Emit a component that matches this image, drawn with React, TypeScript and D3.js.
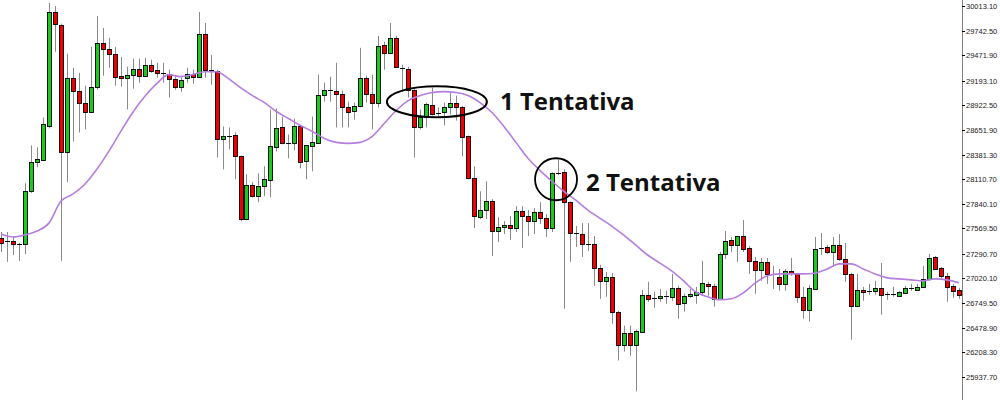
import React from 'react';
import * as d3 from 'd3';

// [open, high, low, close] per bar
const ohlc: number[][] = [
  [27464, 27530, 27311, 27410], [27415, 27530, 27202, 27431], [27431, 27486, 27278, 27399], [27399, 27410, 27213, 27399],
  [27399, 28066, 27289, 27978], [27978, 28482, 27960, 28296], [28296, 28460, 28241, 28329], [28329, 28788, 28310, 28722],
  [28701, 30046, 28668, 29948], [29948, 30013, 29510, 29816], [29806, 29820, 27213, 28416], [28416, 29488, 28077, 29226],
  [29226, 29335, 28525, 29083], [29083, 29280, 28624, 28952], [28952, 29138, 28657, 28854], [28854, 29565, 28840, 29127],
  [29127, 29904, 29094, 29609], [29609, 29773, 29248, 29543], [29543, 29663, 29335, 29488], [29488, 29565, 29138, 29237],
  [29248, 29455, 29127, 29226], [29226, 29346, 28876, 29259], [29259, 29434, 29105, 29324], [29324, 29434, 29171, 29248],
  [29248, 29444, 29237, 29368], [29368, 29423, 29280, 29302], [29313, 29390, 29226, 29280], [29280, 29390, 29171, 29269],
  [29269, 29313, 29007, 29215], [29215, 29237, 29094, 29127], [29127, 29226, 29072, 29204], [29226, 29335, 29171, 29269],
  [29269, 29313, 29160, 29237], [29237, 29948, 29230, 29707], [29707, 29827, 29226, 29313], [29313, 29477, 29149, 29302],
  [29302, 29313, 28350, 28558], [28547, 28690, 28219, 28580], [28580, 28679, 28438, 28575], [28591, 28624, 28110, 28361],
  [28361, 28370, 27650, 27672], [27672, 28165, 27660, 28044], [28044, 28077, 27910, 27924], [27924, 28175, 27858, 28033],
  [28033, 28252, 27924, 28110], [28099, 28876, 27913, 28471], [28460, 28887, 28416, 28668], [28679, 28799, 28493, 28504],
  [28504, 28602, 28340, 28500], [28500, 28777, 28427, 28690], [28690, 28701, 28230, 28296], [28307, 28482, 28110, 28482],
  [28471, 28799, 28197, 28515], [28515, 29259, 28500, 29040], [29040, 29171, 28963, 29094], [29094, 29237, 28963, 29083],
  [29083, 29390, 28679, 29051], [29051, 29083, 28679, 28908], [28908, 28963, 28679, 28854], [28865, 28952, 28766, 28919],
  [28919, 29554, 28900, 29226], [29226, 29248, 28952, 29051], [29051, 29259, 28657, 28952], [28952, 29685, 28898, 29576],
  [29587, 29620, 29313, 29499], [29499, 29827, 29490, 29663], [29663, 29685, 29335, 29346], [29335, 29368, 29072, 29324],
  [29324, 29346, 29007, 29094], [29094, 29100, 28350, 28690], [28690, 28876, 28657, 28799], [28799, 28952, 28679, 28941],
  [28930, 29116, 28810, 28832], [28832, 28898, 28799, 28843], [28854, 28952, 28701, 28908], [28908, 29062, 28821, 28952],
  [28952, 29029, 28755, 28908], [28908, 28915, 28361, 28580], [28580, 28590, 28110, 28121], [28121, 28252, 27574, 27705],
  [27694, 27978, 27672, 27771], [27771, 28088, 27672, 27869], [27869, 27891, 27267, 27541], [27541, 27694, 27421, 27585],
  [27585, 27650, 27508, 27607], [27607, 27705, 27443, 27574], [27574, 27814, 27530, 27760], [27760, 27814, 27355, 27705],
  [27705, 27771, 27486, 27650], [27650, 27793, 27508, 27749], [27749, 27858, 27618, 27683], [27683, 27727, 27475, 27574],
  [27574, 28186, 27530, 28175], [28175, 28329, 28154, 28180], [28186, 28219, 26688, 27858], [27858, 27865, 27202, 27519],
  [27519, 27596, 27366, 27508], [27508, 27628, 27257, 27399], [27399, 27628, 27322, 27395], [27399, 27486, 26939, 27136],
  [27136, 27169, 26797, 26994], [26994, 27092, 26819, 27038], [27038, 27081, 26523, 26655], [26655, 26665, 26119, 26294],
  [26294, 26502, 26217, 26425], [26425, 26502, 26173, 26294], [26294, 26460, 25780, 26447], [26436, 26896, 26425, 26841],
  [26841, 26983, 26764, 26797], [26797, 26874, 26698, 26808], [26808, 26906, 26764, 26830], [26830, 26885, 26742, 26825],
  [26819, 27070, 26775, 26917], [26917, 26939, 26578, 26742], [26753, 26852, 26655, 26830], [26830, 26906, 26808, 26852],
  [26841, 26928, 26742, 26874], [26874, 27213, 26830, 26972], [26961, 26983, 26830, 26939], [26939, 26961, 26710, 26797],
  [26797, 27311, 26797, 27289], [27289, 27541, 27235, 27431], [27443, 27475, 27311, 27388], [27388, 27486, 27202, 27486],
  [27486, 27661, 27311, 27344], [27355, 27377, 27070, 27213], [27213, 27257, 26852, 27114], [27114, 27246, 26994, 27202],
  [27202, 27246, 26961, 27070], [27070, 27158, 26906, 27060], [27038, 27125, 26885, 26961], [26961, 27125, 26885, 27103],
  [27103, 27246, 27049, 27081], [27070, 27081, 26753, 26819], [26819, 26928, 26578, 26677], [26677, 26950, 26545, 26917],
  [26906, 27475, 26900, 27344], [27344, 27519, 27278, 27355], [27366, 27388, 27289, 27311], [27311, 27475, 27147, 27388],
  [27388, 27508, 27213, 27235], [27235, 27410, 26983, 27070], [27070, 27081, 26348, 26720], [26720, 27070, 26710, 26896],
  [26896, 26928, 26775, 26874], [26874, 26961, 26841, 26880], [26885, 26994, 26841, 26917], [26917, 27191, 26622, 26841],
  [26841, 26874, 26786, 26846], [26846, 26928, 26819, 26841], [26830, 26885, 26825, 26874], [26863, 26939, 26852, 26917],
  [26910, 26961, 26885, 26906], [26896, 26961, 26885, 26928], [26928, 27158, 26917, 27016], [27016, 27289, 26994, 27246],
  [27257, 27267, 27114, 27125], [27136, 27147, 27016, 27049], [27049, 27081, 26764, 26928], [26939, 26961, 26808, 26885],
  [26896, 26917, 26797, 26841],
];

// moving average, sampled every second bar
const maIndex = d3.range(0, 161, 2);
const maValues = [
  27508, 27475, 27497, 27541, 27628, 27869, 27946, 28055, 28219, 28416,
  28635, 28843, 29018, 29160, 29259, 29237, 29259, 29291, 29291, 29215,
  29116, 29029, 28952, 28854, 28777, 28701, 28635, 28558, 28515, 28504,
  28515, 28580, 28722, 28865, 28974, 29029, 29062, 29072, 29062, 29029,
  28952, 28843, 28690, 28515, 28340, 28208, 28088, 27978, 27880, 27771,
  27683, 27596, 27497, 27388, 27278, 27191, 27103, 26994, 26874, 26819,
  26786, 26797, 26863, 26972, 27049, 27070, 27070, 27070, 27081, 27125,
  27180, 27180, 27125, 27070, 27027, 27016, 27005, 26994, 27016, 27005,
  26972,
];

const yTicks = [
  30013.1, 29742.5, 29471.9, 29193.1, 28922.5, 28651.9, 28381.3, 28110.7, 27840.1,
  27569.5, 27290.7, 27020.1, 26749.5, 26478.9, 26208.3, 25937.7, 25667.1,
];

// annotations: centre bar index and price
const notes = [
  { label: '1 Tentativa', at: 72.8, price: 28960 },
  { label: '2 Tentativa', at: 92.7, price: 28110 },
];

const W = 1000;
const H = 400;
const axisX = 962;

export default function App() {
  const x = d3.scaleLinear().domain([0, ohlc.length - 1]).range([1, 959]);
  const y = d3.scaleLinear().domain([25937.7, 30013.1]).range([377, 6]);

  const maLine = d3.line<number>()
    .x((d, i) => x(maIndex[i]))
    .y(d => y(d))
    .curve(d3.curveMonotoneX);

  const n1 = notes[0];
  const n2 = notes[1];

  return (
    <svg width={W} height={H} style={{ position: 'absolute', left: 0, top: 0, background: '#fff' }}>
      <rect x={0} y={0} width={W} height={H} fill="#fff" />
      <g>
        {ohlc.map((d, i) => {
          const [o, h, l, c] = d;
          const cx = Math.round(x(i)) + 0.5;
          const top = y(Math.max(o, c));
          const bot = y(Math.min(o, c));
          const up = c >= o;
          const bh = bot - top;
          return (
            <g key={i}>
              <line x1={cx} x2={cx} y1={y(h)} y2={y(l)} stroke="#8a8a8a" strokeWidth={1} />
              {bh < 1.5 ? (
                <line x1={cx - 2.5} x2={cx + 2.5} y1={Math.round(top) + 0.5} y2={Math.round(top) + 0.5} stroke="#000" strokeWidth={1} />
              ) : (
                <rect x={cx - 2} y={Math.round(top) + 0.5} width={4} height={Math.round(bh)}
                  fill={up ? '#1ec81e' : '#ee0000'} stroke="#000" strokeWidth={0.9} />
              )}
            </g>
          );
        })}
      </g>
      <path d={maLine(maValues) || ''} fill="none" stroke="#b47ee0" strokeWidth={1.6} />

      <ellipse cx={x(n1.at)} cy={y(n1.price)} rx={50} ry={15.5} fill="none" stroke="#000" strokeWidth={2} />
      <text x={500} y={110} fontFamily="'Open Sans', sans-serif" fontWeight={700} fontSize={24} fill="#111">{n1.label}</text>
      <circle cx={x(n2.at)} cy={y(n2.price)} r={21} fill="none" stroke="#000" strokeWidth={1.8} />
      <text x={586} y={191} fontFamily="'Open Sans', sans-serif" fontWeight={700} fontSize={24} fill="#111">{n2.label}</text>

      <line x1={axisX + 0.5} x2={axisX + 0.5} y1={0} y2={H} stroke="#808080" strokeWidth={1} />
      {yTicks.map(t => (
        <g key={t} transform={`translate(0,${Math.round(y(t)) + 0.5})`}>
          <line x1={axisX} x2={axisX + 3} stroke="#000" strokeWidth={1} />
          <text x={axisX + 4} dy="0.33em" fontFamily="'Liberation Sans', Arial, sans-serif" fontSize={7.5} fill="#222">
            {t.toFixed(2)}
          </text>
        </g>
      ))}
    </svg>
  );
}
